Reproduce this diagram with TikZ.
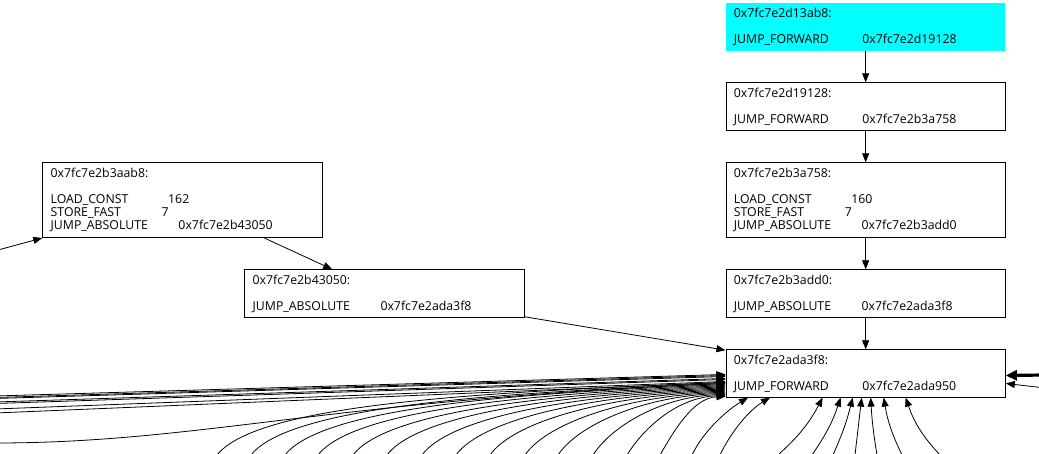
\documentclass[tikz,border=0pt]{standalone}
\usepackage{fontspec}
\setmainfont{Open Sans}
\usetikzlibrary{positioning,arrows.meta,calc}

\definecolor{aqua}{RGB}{0,255,255}
\tikzset{
  blk/.style={draw=black, line width=0.8pt, anchor=north west, text width=263.5pt,
    inner xsep=8pt, inner ysep=0pt, align=left, font=\fontsize{12.3}{13}\selectfont},
  blktwo/.style={blk, minimum height=47.5pt},
  blkfour/.style={blk, minimum height=75pt},
  arr/.style={-{Triangle[length=9pt,width=7pt]}, line width=0.8pt},
  fatarr/.style={-{Triangle[length=11pt,width=10pt]}, line width=3.2pt},
}
\newcommand{\op}[3]{\makebox[#1][l]{#2}#3}

\begin{document}
\begin{tikzpicture}[x=1pt,y=-1pt]
\useasboundingbox (0,0) rectangle (1039,453);
\clip (0,0) rectangle (1039,453);

\node[blktwo, fill=aqua, draw=none] (d13ab8) at (725.5,2.7)
  {0x7fc7e2d13ab8:\\[13pt]\op{128.5pt}{JUMP\_FORWARD}{0x7fc7e2d19128}};
\node[blktwo] (d19128) at (725.5,82.3)
  {0x7fc7e2d19128:\\[13pt]\op{128.5pt}{JUMP\_FORWARD}{0x7fc7e2b3a758}};
\node[blkfour] (b3a758) at (725.5,162.3)
  {0x7fc7e2b3a758:\\[13pt]\op{117.5pt}{LOAD\_CONST}{160}\\\op{111pt}{STORE\_FAST}{7}\\\op{127.8pt}{JUMP\_ABSOLUTE}{0x7fc7e2b3add0}};
\node[blktwo] (b3add0) at (725.5,269.3)
  {0x7fc7e2b3add0:\\[13pt]\op{127.8pt}{JUMP\_ABSOLUTE}{0x7fc7e2ada3f8}};
\node[blktwo] (ada3f8) at (725.5,349.3)
  {0x7fc7e2ada3f8:\\[13pt]\op{128.5pt}{JUMP\_FORWARD}{0x7fc7e2ada950}};

\node[blkfour] (b3aab8) at (42.3,162.3)
  {0x7fc7e2b3aab8:\\[13pt]\op{117.5pt}{LOAD\_CONST}{162}\\\op{111pt}{STORE\_FAST}{7}\\\op{127.8pt}{JUMP\_ABSOLUTE}{0x7fc7e2b43050}};
\node[blktwo] (b43050) at (244.3,269.3)
  {0x7fc7e2b43050:\\[13pt]\op{127.8pt}{JUMP\_ABSOLUTE}{0x7fc7e2ada3f8}};

\draw[arr] (d13ab8) -- (d19128);
\draw[arr] (d19128) -- (b3a758);
\draw[arr] (b3a758) -- (b3add0);
\draw[arr] (b3add0) -- (ada3f8);
\draw[arr] (b3aab8) -- (b43050);
\draw[arr] (b43050) -- (ada3f8);
\coordinate (inF) at (-2,250);
\draw[arr] (inF) -- (b3aab8);

\foreach \y/\dy [count=\i] in {396/1,397.5/2,398.5/3,402/5,403.5/6,409/8,413/9}{
  \coordinate (w\i) at (-5,\y);
  \draw[arr] (w\i) -- ($(ada3f8.west)+(0,\dy)$);
}
\coordinate (w0) at (-5,443);
\draw[arr] (w0) .. controls (200,443) and (330,400) .. ($(ada3f8.west)+(0,10)$);

\foreach \x [count=\i] in {217,251,285,318,353,387,422,456,490,525,558,593,627,660}{
  \pgfmathsetmacro\dd{725-\x}
  \pgfmathsetmacro\dy{9+(\i-1)*14/13}
  \coordinate (s\i) at (\x,455);
  \draw[arr] (s\i) .. controls +(0.06*\dd+10,-0.06*\dd-20) and +(-0.5*\dd,0.02*\dd)
    .. ($(ada3f8.west)+(0,\dy)$);
}
\coordinate (s15) at (692,455);
\draw[arr] (s15) .. controls +(12,-25) and +(-20,12) .. ($(ada3f8.south west)+(22.5,0)$);
\coordinate (s16) at (720,455);
\draw[arr] (s16) .. controls +(12,-25) and +(-20,12) .. ($(ada3f8.south west)+(44.5,0)$);

\foreach \x/\dx/\b [count=\i] in {778/-43/-10,812/-25/-8,833/-13/-5,855/-4/0,877/5/3,902/18/8,940/40/12}{
  \coordinate (u\i) at (\x,455);
  \draw[arr] (u\i) to[bend left=\b] ($(ada3f8.south)+(\dx,0)$);
}

\coordinate (e1) at (1045,375);
\draw[fatarr] (e1) -- ($(ada3f8.east)+(0,2)$);
\coordinate (e2) at (1045,388);
\draw[arr] (e2) -- ($(ada3f8.east)+(0,10)$);
\end{tikzpicture}
\end{document}
